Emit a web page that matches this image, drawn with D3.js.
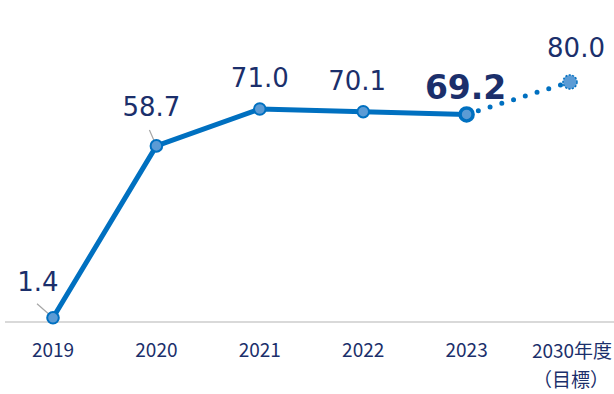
<!DOCTYPE html>
<html><head><meta charset="utf-8">
<script src="https://cdn.jsdelivr.net/npm/d3@7"></script>
<style>body{margin:0;background:#fff}svg{display:block}</style>
</head><body><svg id="c" width="614" height="394"></svg>
<script>
const categories = ["2019","2020","2021","2022","2023","2030年度"];
const subLabels = ["","","","","","（目標）"];
const values = [1.4, 58.7, 71.0, 70.1, 69.2, 80.0];
const valueLabels = ["1.4","58.7","71.0","70.1","69.2","80.0"];

const svg = d3.select("#c");
const x = d3.scalePoint().domain(categories).range([53, 570]);
const y = d3.scaleLinear().domain([0, 100]).range([322, 22]);
const navy = "#1b2f6b", blue = "#0070c0", fill = "#5b9bd5";

// axis baseline
svg.append("line").attr("x1", 5).attr("x2", 614).attr("y1", y(0)).attr("y2", y(0))
  .attr("stroke", "#d9d9d9").attr("stroke-width", 2);

const pts = categories.map((c, i) => [x(c), y(values[i])]);
const line = d3.line();
svg.append("path").attr("d", line(pts.slice(0, 5))).attr("fill", "none")
  .attr("stroke", blue).attr("stroke-width", 5).attr("stroke-linejoin", "round");
svg.append("path").attr("d", line(pts.slice(4))).attr("fill", "none")
  .attr("stroke", blue).attr("stroke-width", 5).attr("stroke-linecap", "round")
  .attr("stroke-dasharray", "0 12.3");

// leader lines
[[0, -16, -14], [1, -7, -16]].forEach(([i, dx, dy]) => {
  svg.append("line").attr("x1", pts[i][0]).attr("y1", pts[i][1])
    .attr("x2", pts[i][0] + dx).attr("y2", pts[i][1] + dy)
    .attr("stroke", "#a6a6a6").attr("stroke-width", 1.2);
});

// markers
pts.forEach((p, i) => {
  const c = svg.append("circle").attr("cx", p[0]).attr("cy", p[1])
    .attr("r", i === 4 ? 6.5 : 5.8).attr("fill", fill).attr("stroke", blue)
    .attr("stroke-width", i === 4 ? 3.5 : 2);
  if (i === 5) c.attr("r", 7).attr("stroke-width", 1.5).attr("stroke-dasharray", "2 1.5");
});

// value labels
const lab = [[-15, -27], [-5, -30], [0, -22], [-6, -22], [-1, -15], [6, -25]];
valueLabels.forEach((t, i) => {
  svg.append("text").attr("x", pts[i][0] + lab[i][0]).attr("y", pts[i][1] + lab[i][1])
    .attr("text-anchor", "middle").attr("font-family", "DejaVu Sans, Verdana, sans-serif")
    .attr("font-size", i === 4 ? 33 : 26).attr("font-weight", i === 4 ? "bold" : "normal")
    .attr("fill", navy).text(t);
});

// category labels
categories.forEach((c, i) => {
  svg.append("text").attr("x", x(c) + (i === 5 ? 2 : 0)).attr("y", i === 5 ? 358 : 357)
    .attr("text-anchor", "middle").attr("font-family", "'Noto Sans CJK JP', 'Noto Sans', sans-serif")
    .attr("font-size", 19).attr("fill", navy).text(c);
  if (subLabels[i]) svg.append("text").attr("x", x(c) + 1).attr("y", 387)
    .attr("text-anchor", "middle").attr("font-family", "'Noto Sans CJK JP', sans-serif")
    .attr("font-size", 19).attr("fill", navy).text(subLabels[i]);
});
</script></body></html>
